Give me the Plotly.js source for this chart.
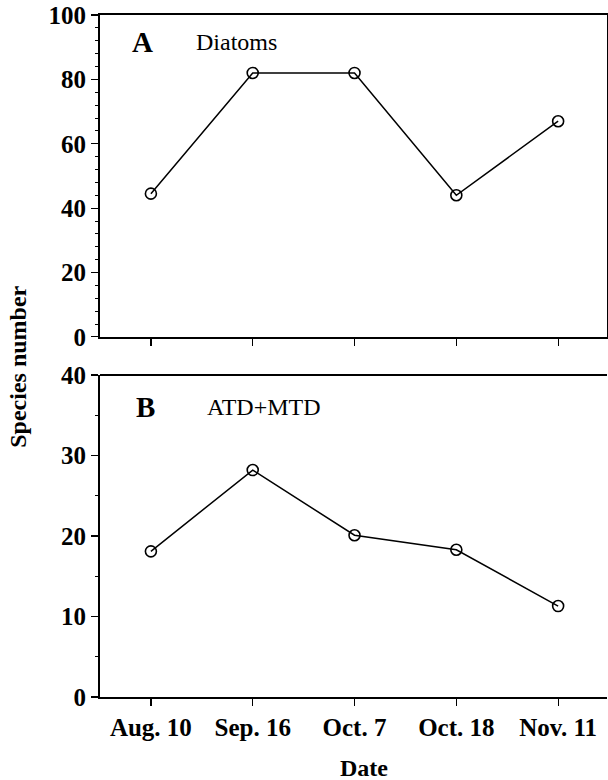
<!DOCTYPE html>
<html>
<head>
<meta charset="utf-8">
<script src="https://cdn.plot.ly/plotly-3.0.1.min.js"></script>
<style>html,body{margin:0;padding:0;background:#fff;}#chart{width:608px;height:780px;}</style>
</head>
<body>
<div id="chart"></div>
<script>
const dates = ["Aug. 10", "Sep. 16", "Oct. 7", "Oct. 18", "Nov. 11"];
const diatoms = [44.5, 82, 82, 44, 67];
const atdMtd = [18.1, 28.2, 20.1, 18.3, 11.3];
const yTicksA = [0, 20, 40, 60, 80, 100];
const yTicksB = [0, 10, 20, 30, 40];

const F = "'Liberation Serif', 'Times New Roman', Times, serif";
const idx = dates.map((d, i) => i);

const lineStyle = {color: "#000", width: 1.5};
const markerStyle = {symbol: "circle-open", size: 11, color: "#000", line: {width: 1.6, color: "#000"}};

const traces = [
  {x: idx, y: diatoms, xaxis: "x", yaxis: "y", mode: "lines+markers", line: lineStyle, marker: markerStyle, showlegend: false, hoverinfo: "skip"},
  {x: idx, y: atdMtd, xaxis: "x2", yaxis: "y2", mode: "lines+markers", line: lineStyle, marker: markerStyle, showlegend: false, hoverinfo: "skip"}
];

const tickFont = {family: F, size: 25, color: "#000", weight: "bold"};
const xbase = {range: [-0.5, 4.48], showgrid: false, zeroline: false, showline: true, linecolor: "#000", linewidth: 2,
  ticks: "outside", ticklen: 7, tickwidth: 1.2, tickcolor: "#000", tickmode: "array", tickvals: idx, fixedrange: true};
const ybase = {showgrid: false, zeroline: false, showline: true, linecolor: "#000", linewidth: 2,
  ticks: "outside", ticklen: 7, tickwidth: 1.2, tickcolor: "#000", tickfont: tickFont, tickmode: "array", fixedrange: true, ticklabelstandoff: 0};

const layout = {
  width: 608, height: 780,
  margin: {l: 100, r: 1, t: 15, b: 83},
  paper_bgcolor: "#fff", plot_bgcolor: "#fff",
  font: {family: F, color: "#000"},
  xaxis: Object.assign({}, xbase, {anchor: "y", ticktext: dates.map(() => ""), mirror: true}),
  yaxis: Object.assign({}, ybase, {domain: [0.528, 1], range: [0, 100], tickvals: yTicksA, mirror: true,
    minor: {dtick: 4, ticks: "outside", ticklen: 3, tickwidth: 1, tickcolor: "#000", showgrid: false}}),
  xaxis2: Object.assign({}, xbase, {anchor: "y2", ticktext: dates, tickfont: tickFont, mirror: false}),
  yaxis2: Object.assign({}, ybase, {domain: [0, 0.472], range: [0, 40], tickvals: yTicksB, mirror: false,
    minor: {dtick: 5, ticks: "outside", ticklen: 3, tickwidth: 1, tickcolor: "#000", showgrid: false}}),
  shapes: [
    {type: "line", xref: "x2 domain", yref: "y2 domain", x0: 0, x1: 1, y0: 1, y1: 1, line: {color: "#000", width: 2}}
  ],
  annotations: [
    {text: "A", xref: "x domain", yref: "y domain", x: 0.059, y: 0.916, xanchor: "left", yanchor: "middle", showarrow: false,
      font: {family: F, size: 29, weight: "bold", color: "#000"}},
    {text: "Diatoms", xref: "x domain", yref: "y domain", x: 0.185, y: 0.916, xanchor: "left", yanchor: "middle", showarrow: false,
      font: {family: F, size: 24, color: "#000"}},
    {text: "B", xref: "x2 domain", yref: "y2 domain", x: 0.067, y: 0.9, xanchor: "left", yanchor: "middle", showarrow: false,
      font: {family: F, size: 29, weight: "bold", color: "#000"}},
    {text: "ATD+MTD", xref: "x2 domain", yref: "y2 domain", x: 0.207, y: 0.9, xanchor: "left", yanchor: "middle", showarrow: false,
      font: {family: F, size: 24, color: "#000"}},
    {text: "Species number", xref: "paper", yref: "paper", x: -0.162, y: 0.484, xanchor: "center", yanchor: "middle", textangle: -90, showarrow: false,
      font: {family: F, size: 24, weight: "bold", color: "#000"}},
    {text: "Date", xref: "paper", yref: "paper", x: 0.52, y: -0.104, xanchor: "center", yanchor: "middle", showarrow: false,
      font: {family: F, size: 24, weight: "bold", color: "#000"}}
  ]
};

Plotly.newPlot("chart", traces, layout, {staticPlot: true, displayModeBar: false});
</script>
</body>
</html>
